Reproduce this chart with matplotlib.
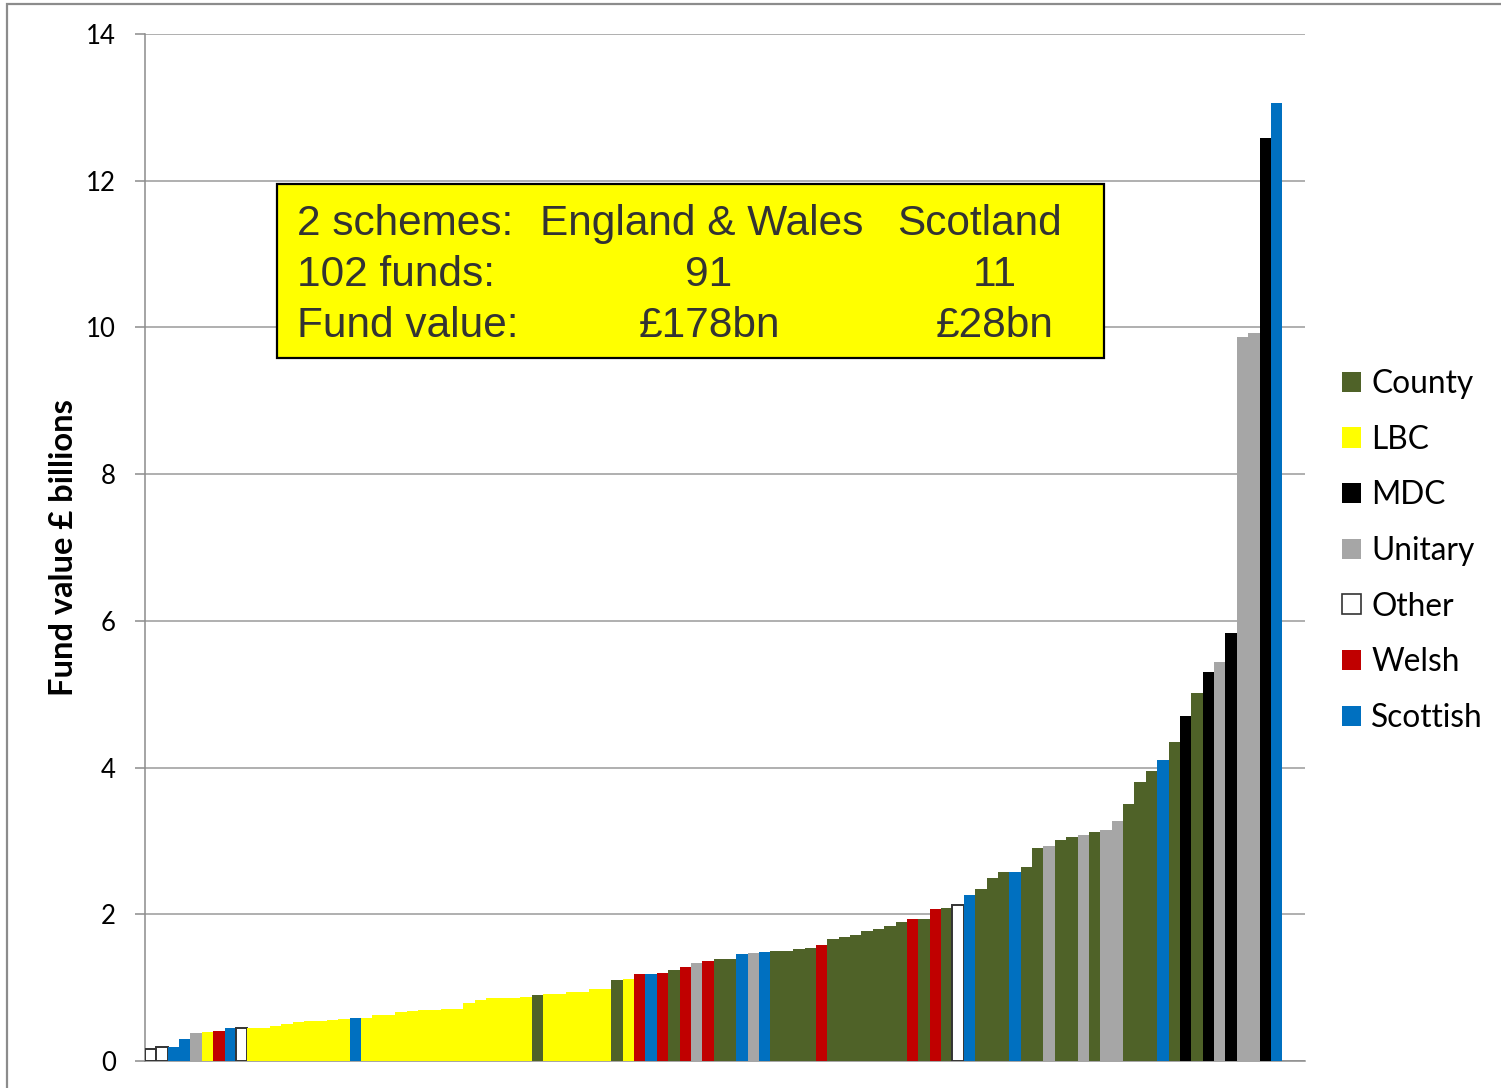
import matplotlib
matplotlib.use("Agg")
import matplotlib.pyplot as plt
from matplotlib.patches import Patch, Rectangle

# ---- data (sorted fund values, £ billions) ----
fund_types = [
    "Other", "Other", "Scottish", "Scottish", "Unitary", "LBC", "Welsh", "Scottish", "Other", "LBC",
    "LBC", "LBC", "LBC", "LBC", "LBC", "LBC", "LBC", "LBC", "Scottish", "LBC",
    "LBC", "LBC", "LBC", "LBC", "LBC", "LBC", "LBC", "LBC", "LBC", "LBC",
    "LBC", "LBC", "LBC", "LBC", "County", "LBC", "LBC", "LBC", "LBC", "LBC",
    "LBC", "County", "LBC", "Welsh", "Scottish", "Welsh", "County", "Welsh", "Unitary", "Welsh",
    "County", "County", "Scottish", "Unitary", "Scottish", "County", "County", "County", "County", "Welsh",
    "County", "County", "County", "County", "County", "County", "County", "Welsh", "County", "Welsh",
    "County", "Other", "Scottish", "County", "County", "County", "Scottish", "County", "County", "Unitary",
    "County", "County", "Unitary", "County", "Unitary", "Unitary", "County", "County", "County", "Scottish",
    "County", "MDC", "County", "MDC", "Unitary", "MDC", "Unitary", "Unitary", "MDC", "Scottish",
]
fund_values = [
    0.16, 0.19, 0.195, 0.30, 0.386, 0.40, 0.41, 0.446, 0.45, 0.45,
    0.455, 0.48, 0.50, 0.53, 0.54, 0.545, 0.56, 0.57, 0.585, 0.59,
    0.627, 0.63, 0.668, 0.68, 0.695, 0.695, 0.713, 0.715, 0.786, 0.827,
    0.859, 0.86, 0.86, 0.872, 0.904, 0.918, 0.92, 0.94, 0.94, 0.98,
    0.98, 1.10, 1.12, 1.18, 1.18, 1.195, 1.245, 1.286, 1.34, 1.36,
    1.386, 1.386, 1.455, 1.468, 1.486, 1.505, 1.505, 1.527, 1.545, 1.586,
    1.66, 1.686, 1.718, 1.77, 1.795, 1.84, 1.90, 1.93, 1.93, 2.07,
    2.09, 2.12, 2.26, 2.35, 2.49, 2.57, 2.58, 2.64, 2.91, 2.93,
    3.006, 3.05, 3.08, 3.12, 3.15, 3.265, 3.50, 3.81, 3.96, 4.10,
    4.345, 4.70, 5.02, 5.30, 5.44, 5.83, 9.87, 9.93, 12.58, 13.06,
]
legend_order = ["County", "LBC", "MDC", "Unitary", "Other", "Welsh", "Scottish"]
n_slots = 102
y_ticks = [0, 2, 4, 6, 8, 10, 12, 14]
y_label = "Fund value £ billions"
box_rows = [
    ["2 schemes:", "England & Wales", "Scotland"],
    ["102 funds:", "91", "11"],
    ["Fund value:", "£178bn", "£28bn"],
]

# ---- styles ----
face = {
    "County": "#4F6228", "LBC": "#FFFF00", "MDC": "#000000", "Unitary": "#A6A6A6",
    "Other": "#FFFFFF", "Welsh": "#C00000", "Scottish": "#0070C0",
}
edge = {k: face[k] for k in face}
edge["Other"] = "#333333"

W, H = 1501, 1088
fig = plt.figure(figsize=(W / 100, H / 100), dpi=100)
ax = fig.add_axes([145 / W, 1 - 1061 / H, 1160 / W, 1027 / H])

xs = list(range(len(fund_values)))
ax.bar(xs, fund_values, width=1.0, align="edge",
       color=[face[t] for t in fund_types],
       edgecolor=[edge[t] for t in fund_types],
       linewidth=[1.4 if t == "Other" else 0.0 for t in fund_types],
       zorder=3)

ax.set_xlim(0, n_slots)
ax.set_ylim(0, 14)
ax.set_yticks(y_ticks)
ax.set_xticks([])
ax.grid(axis="y", color="#9A9A9A", linewidth=1.1, zorder=0)
for s in ["top", "right"]:
    ax.spines[s].set_visible(False)
for s in ["left", "bottom"]:
    ax.spines[s].set_color("#8C8C8C")
    ax.spines[s].set_linewidth(1.1)
ax.tick_params(axis="y", length=7, width=1.1, color="#8C8C8C", pad=14,
               labelsize=18.5, labelcolor="#000000")
for lbl in ax.get_yticklabels():
    lbl.set_fontfamily("Lato")

ax.set_ylabel(y_label, fontsize=23.5, fontweight="bold", family="Lato")
ax.yaxis.set_label_coords(-0.058, 0.5)

# legend
handles = [Patch(facecolor=face[k], edgecolor=edge[k] if k == "Other" else face[k],
                 linewidth=1.2 if k == "Other" else 0) for k in legend_order]
fig.legend(handles, legend_order, loc="upper left",
           bbox_to_anchor=(1342 / W, 1 - 369 / H), frameon=False,
           prop={"family": "Lato", "size": 22.8},
           handlelength=0.6, handleheight=0.6, handletextpad=0.32,
           labelspacing=0.81, borderpad=0.0, borderaxespad=0.0)

# yellow text box
fig.add_artist(Rectangle((277 / W, 1 - 358 / H), 827 / W, 174 / H,
                         transform=fig.transFigure, facecolor="#FFFF00",
                         edgecolor="#000000", linewidth=1.6, zorder=5))
baselines = [235, 286.5, 337]
tcol = "#333333"
tfont = {"family": "Liberation Sans", "size": 30.5, "color": tcol}
for r, row in enumerate(box_rows):
    yb = 1 - baselines[r] / H
    fig.text(297 / W, yb, row[0], ha="left", va="baseline", zorder=6, **tfont)
    if r == 0:
        fig.text(540 / W, yb, row[1], ha="left", va="baseline", zorder=6, **tfont)
        fig.text(897 / W, yb, row[2], ha="left", va="baseline", zorder=6, **tfont)
    else:
        fig.text(709 / W, yb, row[1], ha="center", va="baseline", zorder=6, **tfont)
        fig.text(995 / W, yb, row[2], ha="center", va="baseline", zorder=6, **tfont)

# outer chart border (top and left visible)
fig.add_artist(Rectangle((7 / W, -0.02), 1.05, 1.02 - 4 / H + 0.0,
                         transform=fig.transFigure, facecolor="none",
                         edgecolor="#8C8C8C", linewidth=1.6, zorder=10))

fig.savefig("out.png", dpi=100)
